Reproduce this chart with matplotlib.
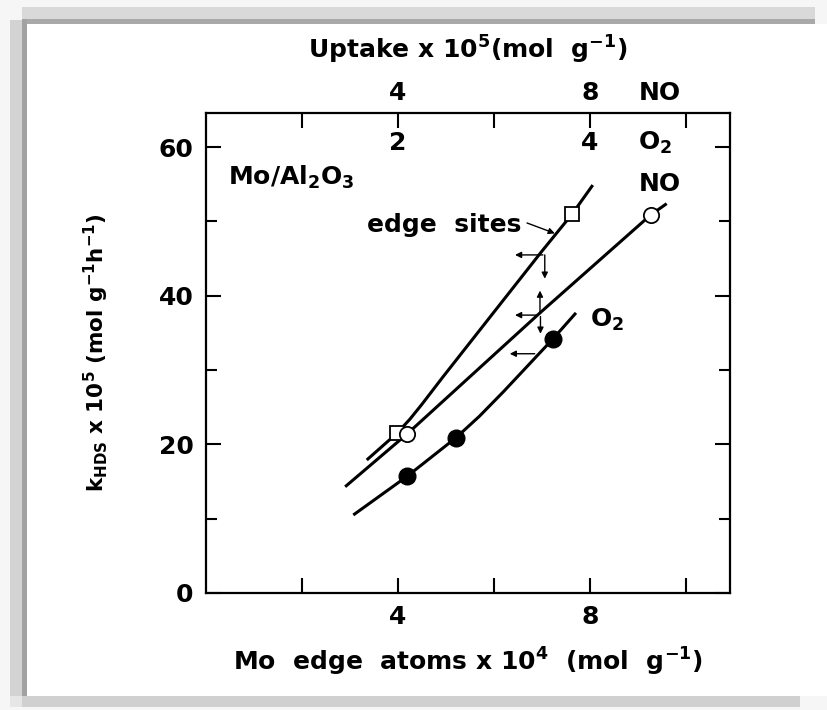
import numpy as np
import matplotlib
matplotlib.use("Agg")
import matplotlib.pyplot as plt
from matplotlib.patches import Rectangle

# ---- data ---------------------------------------------------------------
# Mo edge atoms (x 10^4 mol/g) and k_HDS (x 10^5 mol g^-1 h^-1)
edge_curve_x = [3.35, 3.98, 4.25, 4.5, 4.94, 6.0, 7.0, 7.63, 8.06]
edge_curve_y = [17.9, 21.5, 23.4, 25.4, 29.1, 37.8, 46.0, 51.0, 54.9]
edge_pts_x = [3.98, 7.63]
edge_pts_y = [21.5, 51.0]

no_curve_x = [2.9, 4.19, 6.96, 9.27, 9.6]
no_curve_y = [14.3, 21.4, 37.7, 50.9, 52.4]
no_pts_x = [4.19, 9.27]
no_pts_y = [21.4, 50.9]

o2_curve_x = [3.07, 4.19, 5.21, 5.7, 6.2, 7.23, 7.71]
o2_curve_y = [10.5, 15.7, 20.9, 23.8, 27.1, 34.2, 37.7]
o2_pts_x = [4.19, 5.21, 7.23]
o2_pts_y = [15.7, 20.9, 34.2]

bottom_ticks = [2, 4, 6, 8, 10]
bottom_labels = ["", "4", "", "8", ""]
left_ticks = [0, 20, 40, 60]
left_minor = [10, 30, 50]

# uptake scales on the top axis (x 10^5 mol/g)
no_uptake_ticks = [4, 8]
o2_uptake_ticks = [2, 4]
no_per_edge = 1.0   # NO uptake per edge atom
o2_per_edge = 0.5   # O2 uptake per edge atom

W, H = 827, 710

plt.rcParams["mathtext.fontset"] = "custom"
plt.rcParams["mathtext.rm"] = "DejaVu Sans:bold"
plt.rcParams["mathtext.it"] = "DejaVu Sans:bold"
plt.rcParams["mathtext.bf"] = "DejaVu Sans:bold"
plt.rcParams["mathtext.sf"] = "DejaVu Sans"
plt.rcParams["font.family"] = ["DejaVu Sans"]
plt.rcParams["font.weight"] = "bold"

fig = plt.figure(figsize=(W / 100, H / 100), dpi=100, facecolor="#f6f6f6")


def px_rect(x0, y0, x1, y1, color):
    fig.patches.append(Rectangle((x0 / W, 1 - y1 / H), (x1 - x0) / W, (y1 - y0) / H,
                                 transform=fig.transFigure, facecolor=color,
                                 edgecolor="none", zorder=-10))


# page frame with soft shadow
px_rect(10, 20, 22, 707, "#d3d3d3")
px_rect(22, 7, 815, 19, "#d9d9d9")
px_rect(22, 19, 815, 24, "#a9a9a9")
px_rect(22, 19, 27, 696, "#a2a2a2")
px_rect(22, 696, 800, 707, "#d0d0d0")
px_rect(10, 696, 22, 707, "#e6e6e6")
px_rect(27, 24, W, 696, "#ffffff")

ax = fig.add_axes([206 / W, 1 - 593 / H, (730 - 206) / W, (593 - 113) / H])
ax.set_xlim(0, 10.92)
ax.set_ylim(0, 64.6)
for s in ax.spines.values():
    s.set_linewidth(1.6)

FS = 18
ax.set_xticks(bottom_ticks)
ax.set_xticklabels(bottom_labels)
ax.set_yticks(left_ticks)
ax.set_yticks(left_minor, minor=True)
ax.tick_params(axis="both", which="major", direction="in", length=11, width=1.5,
               labelsize=FS, top=True, right=True, pad=9)
ax.tick_params(axis="both", which="minor", direction="in", length=8, width=1.5,
               top=True, right=True)
ax.tick_params(axis="x", which="major", pad=9)
for lab in ax.get_xticklabels() + ax.get_yticklabels():
    lab.set_fontweight("bold")

X = r"$\mathsf{x}$"
ax.set_xlabel(r"Mo  edge  atoms " + X + r" 10$^4$  (mol  g$^{-1}$)", fontsize=FS,
              fontweight="bold", labelpad=12)
ax.set_ylabel(r"k$_{\rm HDS}$ " + X + r" 10$^5$ (mol g$^{-1}$h$^{-1}$)", fontsize=15.5,
              fontweight="bold", labelpad=34)

# top uptake scales
for v in no_uptake_ticks:
    ax.text(v / no_per_edge, 1.042, str(v), transform=ax.get_xaxis_transform(),
            ha="center", va="center", fontsize=FS, fontweight="bold")
ax.text(9.46, 1.042, "NO", transform=ax.get_xaxis_transform(),
        ha="center", va="center", fontsize=FS, fontweight="bold")
for v in o2_uptake_ticks:
    ax.text(v / o2_per_edge, 0.9375, str(v), transform=ax.get_xaxis_transform(),
            ha="center", va="center", fontsize=FS, fontweight="bold")
ax.text(9.35, 0.9375, r"O$_2$", transform=ax.get_xaxis_transform(),
        ha="center", va="center", fontsize=FS, fontweight="bold")
ax.text(0.5, 1.132, r"Uptake " + X + r" 10$^5$(mol  g$^{-1}$)", transform=ax.transAxes,
        ha="center", va="center", fontsize=FS, fontweight="bold")

# curves and markers
lw = 2.2
ax.plot(edge_curve_x, edge_curve_y, color="black", lw=lw, solid_capstyle="butt")
ax.plot(no_curve_x, no_curve_y, color="black", lw=lw, solid_capstyle="butt")
ax.plot(o2_curve_x, o2_curve_y, color="black", lw=lw, solid_capstyle="butt")
ax.plot(edge_pts_x, edge_pts_y, ls="none", marker="s", ms=10, mfc="white",
        mec="black", mew=1.3, zorder=5)
ax.plot(no_pts_x, no_pts_y, ls="none", marker="o", ms=11, mfc="white",
        mec="black", mew=1.3, zorder=5)
ax.plot(o2_pts_x, o2_pts_y, ls="none", marker="o", ms=12, mfc="black",
        mec="black", zorder=5)

# labels on the plot
ax.text(0.46, 56.0, r"Mo/Al$_2$O$_3$", fontsize=FS, fontweight="bold",
        ha="left", va="center")
ax.text(9.46, 55.0, "NO", fontsize=FS, fontweight="bold", ha="center", va="center")
ax.text(8.35, 36.7, r"O$_2$", fontsize=FS, fontweight="bold", ha="center", va="center")
ax.text(6.58, 49.5, "edge  sites", fontsize=FS, fontweight="bold",
        ha="right", va="center")

arrow = dict(arrowstyle="-|>", lw=1.0, color="black", mutation_scale=9,
             shrinkA=0, shrinkB=0)
ax.annotate("", xy=(7.27, 48.4), xytext=(6.69, 49.8), arrowprops=arrow)
# graphical read-off construction
ax.annotate("", xy=(6.44, 45.5), xytext=(7.02, 45.5), arrowprops=arrow)
ax.annotate("", xy=(7.06, 42.3), xytext=(7.06, 45.5), arrowprops=arrow)
ax.annotate("", xy=(6.96, 40.7), xytext=(6.96, 37.6), arrowprops=arrow)
ax.annotate("", xy=(6.44, 37.4), xytext=(6.92, 37.4), arrowprops=arrow)
ax.annotate("", xy=(6.97, 34.9), xytext=(6.97, 37.2), arrowprops=arrow)
ax.annotate("", xy=(6.33, 32.2), xytext=(6.85, 32.2), arrowprops=arrow)

fig.savefig("out.png", dpi=100, facecolor=fig.get_facecolor())
